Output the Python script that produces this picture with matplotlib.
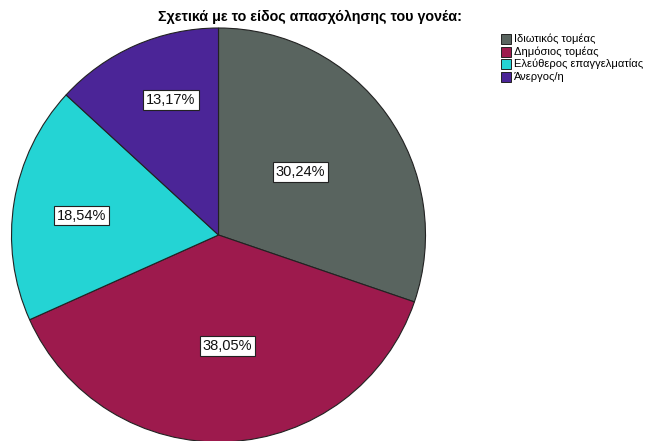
import matplotlib
matplotlib.use("Agg")
import matplotlib.pyplot as plt
from matplotlib.patches import Rectangle
import numpy as np

plt.rcParams['font.family'] = ['Liberation Sans', 'DejaVu Sans']

title = "Σχετικά με το είδος απασχόλησης του γονέα:"
categories = ["Ιδιωτικός τομέας", "Δημόσιος τομέας", "Ελεύθερος επαγγελματίας", "Άνεργος/η"]
percentages = [30.24, 38.05, 18.54, 13.17]
colors = ["#59645f", "#9d1a4d", "#24d4d4", "#4b2597"]

# placement of the percentage boxes: fraction of radius, angular nudge (deg)
label_radius = [0.50, 0.54, 0.667, 0.69]
label_shift = [2.0, 2.0, 1.1, -4.3]

W, H = 654, 441
fig = plt.figure(figsize=(W / 100, H / 100), dpi=100)
ax = fig.add_axes([0, 0, 1, 1])

cx, cy, r = 218.5, H - 235, 207
wedges, _ = ax.pie(percentages, colors=colors, startangle=90, counterclock=False,
                   center=(cx, cy), radius=r, frame=True,
                   wedgeprops=dict(edgecolor="#222222", linewidth=0.8))
ax.set_xlim(0, W)
ax.set_ylim(0, H)
ax.set_aspect('equal')
ax.axis('off')

for w, p, lr, sh in zip(wedges, percentages, label_radius, label_shift):
    mid = np.deg2rad((w.theta1 + w.theta2) / 2 + sh)
    x = cx + lr * r * np.cos(mid)
    y = cy + lr * r * np.sin(mid)
    ax.text(x, y, f"{p:.2f}%".replace(".", ","), ha='center', va='center', fontsize=10.5,
            color='#111111',
            bbox=dict(boxstyle='square,pad=0.2', facecolor='white', edgecolor='#222222', linewidth=0.8))

fig.text(310 / W, 1 - 17 / H, title, ha='center', va='center', fontsize=10.3, fontweight='bold')

# legend
for i, (lab, col) in enumerate(zip(categories, colors)):
    yc = H - (39 + i * 12.6)
    ax.add_patch(Rectangle((501, yc - 5), 10, 10, facecolor=col, edgecolor='#222222', linewidth=0.7))
    ax.text(514, yc, lab, ha='left', va='center', fontsize=8)

fig.savefig("out.png", dpi=100)
